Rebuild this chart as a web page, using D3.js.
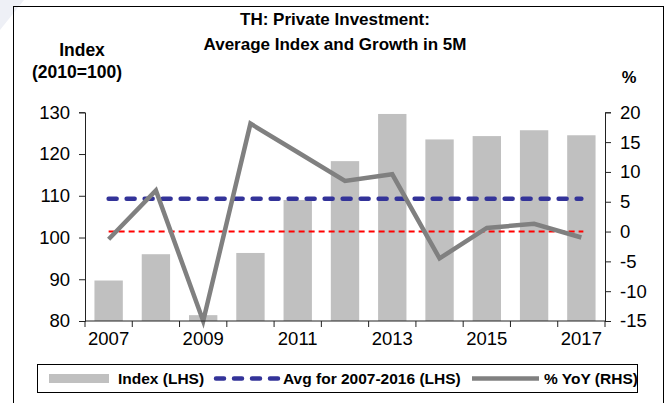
<!DOCTYPE html>
<html>
<head>
<meta charset="utf-8">
<script src="https://cdn.jsdelivr.net/npm/d3@7"></script>
<style>
  html, body { margin: 0; padding: 0; background: #fff; }
  svg { display: block; font-family: "Liberation Sans", Arial, sans-serif; }
</style>
</head>
<body>
<div id="chart"></div>
<script>
// values
const years = ['2007', '2008', '2009', '2010', '2011', '2012', '2013', '2014', '2015', '2016', '2017'];
const indexValues = [89.7, 96.0, 81.4, 96.3, 109.0, 118.3, 129.6, 123.5, 124.3, 125.7, 124.5];
const yoyValues = [-1.3, 6.9, -15.0, 18.1, 13.3, 8.5, 9.6, -4.5, 0.6, 1.3, -1.0];
const avgIndex = 109.3;
const leftTicks = [80, 90, 100, 110, 120, 130];
const rightTicks = [-15, -10, -5, 0, 5, 10, 15, 20];
const yearLabels = ['2007', '2009', '2011', '2013', '2015', '2017'];
const titleLines = ['TH: Private Investment:', 'Average Index and Growth in 5M'];

const width = 669, height = 403;
const plot = { left: 85, right: 605, top: 112.3, bottom: 321 };

const svg = d3.select('#chart')
  .append('svg')
  .attr('width', width)
  .attr('height', height);

// faint watermark in the corner
svg.append('polygon')
  .attr('points', '0,0 24,0 0,30')
  .attr('fill', '#eef0f6');

// outer frame
svg.append('rect')
  .attr('x', 13.5)
  .attr('y', 6.5)
  .attr('width', 650)
  .attr('height', 410)
  .attr('fill', 'none')
  .attr('stroke', '#000')
  .attr('stroke-width', 1);

// scales
const x = d3.scaleBand()
  .domain(years)
  .range([plot.left, plot.right])
  .paddingInner(0.4)
  .paddingOuter(0.2);

const yLeft = d3.scaleLinear().domain([80, 130]).range([plot.bottom, plot.top]);
const yRight = d3.scaleLinear().domain([-15, 20]).range([plot.bottom, plot.top]);
const cx = d => x(d) + x.bandwidth() / 2;

// bars
svg.append('g')
  .selectAll('rect')
  .data(years)
  .join('rect')
  .attr('x', d => x(d))
  .attr('width', x.bandwidth())
  .attr('y', (d, i) => yLeft(indexValues[i]))
  .attr('height', (d, i) => yLeft(80) - yLeft(indexValues[i]))
  .attr('fill', '#c0c0c0');

// average line (LHS)
svg.append('line')
  .attr('x1', cx(years[0]))
  .attr('x2', cx(years[years.length - 1]))
  .attr('y1', yLeft(avgIndex))
  .attr('y2', yLeft(avgIndex))
  .attr('stroke', '#333399')
  .attr('stroke-width', 4.5)
  .attr('stroke-linecap', 'round')
  .attr('stroke-dasharray', '8,10');

// zero growth line (RHS)
svg.append('line')
  .attr('x1', cx(years[0]))
  .attr('x2', cx(years[years.length - 1]) + 2)
  .attr('y1', yRight(0))
  .attr('y2', yRight(0))
  .attr('stroke', '#ff0000')
  .attr('stroke-width', 2)
  .attr('stroke-dasharray', '6,4');

// % YoY line
const line = d3.line()
  .x((d, i) => cx(years[i]))
  .y(d => yRight(d));

svg.append('path')
  .datum(yoyValues)
  .attr('d', line)
  .attr('fill', 'none')
  .attr('stroke', '#808080')
  .attr('stroke-width', 4.5)
  .attr('stroke-linejoin', 'miter');

// axes
const axisColor = '#222';
const tickFont = 18.5;
const plain = d => String(d); // hyphen minus, like the original

const gLeft = svg.append('g')
  .attr('transform', `translate(${plot.left},0)`)
  .call(d3.axisLeft(yLeft).tickValues(leftTicks).tickFormat(plain).tickSize(6).tickPadding(9));

const gRight = svg.append('g')
  .attr('transform', `translate(${plot.right},0)`)
  .call(d3.axisRight(yRight).tickValues(rightTicks).tickFormat(plain).tickSize(6).tickPadding(9));

// x axis: ticks on band edges, labels every other year
const edges = years.map(d => x(d) - x.step() * x.paddingInner() / 2).concat([plot.right]);
const gBottom = svg.append('g');
gBottom.append('line')
  .attr('x1', plot.left).attr('x2', plot.right)
  .attr('y1', plot.bottom).attr('y2', plot.bottom)
  .attr('stroke', axisColor);
gBottom.selectAll('.xtick')
  .data(edges)
  .join('line')
  .attr('class', 'xtick')
  .attr('x1', d => d).attr('x2', d => d)
  .attr('y1', plot.bottom).attr('y2', plot.bottom + 6)
  .attr('stroke', axisColor);
gBottom.selectAll('text')
  .data(yearLabels)
  .join('text')
  .attr('x', d => cx(d))
  .attr('y', 345)
  .attr('text-anchor', 'middle')
  .attr('font-size', tickFont)
  .attr('fill', '#000')
  .text(d => d);

[gLeft, gRight].forEach(g => {
  g.select('.domain').attr('stroke', axisColor);
  g.selectAll('.tick line').attr('stroke', axisColor);
  g.selectAll('.tick text')
    .attr('font-size', tickFont)
    .attr('font-family', '"Liberation Sans", Arial, sans-serif')
    .attr('fill', '#000');
});

// titles
svg.append('g')
  .selectAll('text')
  .data(titleLines)
  .join('text')
  .attr('x', 335)
  .attr('y', (d, i) => 25 + i * 25)
  .attr('text-anchor', 'middle')
  .attr('font-size', 17)
  .attr('font-weight', 'bold')
  .text(d => d);

svg.append('text')
  .attr('x', 82).attr('y', 56)
  .attr('text-anchor', 'middle')
  .attr('font-size', 17.5)
  .attr('font-weight', 'bold')
  .text('Index');

svg.append('text')
  .attr('x', 77).attr('y', 78)
  .attr('text-anchor', 'middle')
  .attr('font-size', 17.5)
  .attr('font-weight', 'bold')
  .text('(2010=100)');

svg.append('text')
  .attr('x', 629).attr('y', 83)
  .attr('text-anchor', 'middle')
  .attr('font-size', 16.5)
  .attr('font-weight', 'bold')
  .text('%');

// legend
const legend = svg.append('g');
legend.append('rect')
  .attr('x', 37.5).attr('y', 364.5)
  .attr('width', 600).attr('height', 28)
  .attr('fill', '#fff')
  .attr('stroke', '#000');

const legendY = 378.5;
legend.append('line')
  .attr('x1', 49).attr('x2', 109)
  .attr('y1', legendY).attr('y2', legendY)
  .attr('stroke', '#c0c0c0').attr('stroke-width', 9);
legend.append('line')
  .attr('x1', 216).attr('x2', 279)
  .attr('y1', legendY).attr('y2', legendY)
  .attr('stroke', '#333399').attr('stroke-width', 4.5)
  .attr('stroke-linecap', 'round')
  .attr('stroke-dasharray', '8,10');
legend.append('line')
  .attr('x1', 472).attr('x2', 539)
  .attr('y1', legendY).attr('y2', legendY)
  .attr('stroke', '#808080').attr('stroke-width', 4.5);

const legendItems = [
  { label: 'Index (LHS)', x: 118 },
  { label: 'Avg for 2007-2016 (LHS)', x: 283 },
  { label: '% YoY (RHS)', x: 544 }
];
legend.selectAll('text')
  .data(legendItems)
  .join('text')
  .attr('x', d => d.x)
  .attr('y', legendY + 5.5)
  .attr('font-size', 15.5)
  .attr('font-weight', 'bold')
  .text(d => d.label);
</script>
</body>
</html>
